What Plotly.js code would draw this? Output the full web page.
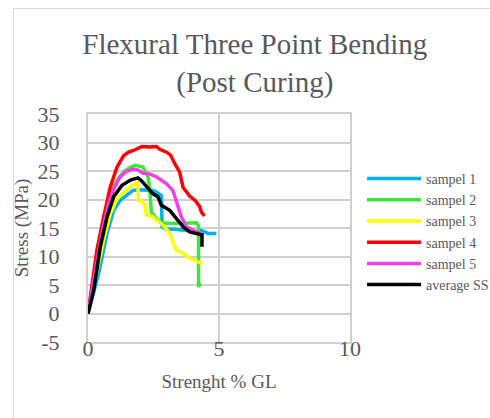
<!DOCTYPE html>
<html>
<head>
<meta charset="utf-8">
<script src="https://cdn.plot.ly/plotly-3.0.1.min.js"></script>
<style>
  html, body { margin: 0; padding: 0; background: #fff; }
  #wrap { position: relative; width: 490px; height: 418px; overflow: hidden; }
  #chart { position: absolute; left: 0; top: 0; width: 490px; height: 418px; }
  #frame { position: absolute; left: 13px; top: 8px; width: 600px; height: 600px;
           border-left: 1px solid #D9D9D9; border-top: 1px solid #D9D9D9; pointer-events: none; }
</style>
</head>
<body>
<div id="wrap"><div id="chart"></div><div id="frame"></div></div>
<script>
// ---- data ----
const seriesNames = ["sampel 1", "sampel 2", "sampel 3", "sampel 4", "sampel 5", "average SS"];

const sampel1X = [0, 0.2, 0.41, 0.73, 0.98, 1.24, 1.49, 1.72, 1.97, 2.25, 2.48, 2.61, 2.8, 2.83, 2.99, 3.3, 3.63, 3.9, 4.14, 4.33, 4.58, 4.9];
const sampel1Y = [0, 3.2, 7.1, 14.1, 18.1, 19.9, 20.8, 21.6, 21.7, 21.6, 21.6, 21.3, 20.7, 15.2, 14.8, 14.8, 14.7, 14.5, 14.3, 14.6, 14.05, 14.05];

const sampel2X = [0, 0.3, 0.55, 0.8, 1.0, 1.2, 1.4, 1.6, 1.8, 2.1, 2.29, 2.35, 2.38, 2.42, 2.61, 2.8, 3.12, 3.6, 4.14, 4.22, 4.22, 4.3];
const sampel2Y = [0, 8.5, 15, 20, 22.5, 24, 25, 25.6, 26, 25.7, 24, 22.2, 19.9, 17.8, 16.7, 15.9, 15.8, 15.8, 15.9, 15.4, 4.7, 5.3];

const sampel3X = [0, 0.3, 0.6, 0.85, 1.1, 1.3, 1.5, 1.7, 1.9, 1.93, 2.16, 2.23, 2.48, 2.86, 3.12, 3.37, 3.63, 3.88, 4.1, 4.37];
const sampel3Y = [0, 6.5, 13, 17.5, 20, 21, 21.8, 22.5, 22.9, 19.8, 19.3, 17.3, 17, 15.5, 14.1, 11.1, 10.6, 9.7, 9.3, 8.7];

const sampel4X = [0, 0.15, 0.34, 0.6, 0.85, 1.11, 1.36, 1.55, 1.74, 2.06, 2.35, 2.61, 2.74, 3.0, 3.15, 3.3, 3.5, 3.63, 3.88, 4.1, 4.26, 4.33, 4.45];
const sampel4Y = [0, 5, 11.1, 17, 22.2, 25.7, 27.7, 28.3, 28.6, 29.3, 29.2, 29.3, 28.8, 28.3, 27.8, 26.4, 24.8, 22.1, 20.6, 19.8, 18.8, 17.8, 17.1];

const sampel5X = [0, 0.3, 0.55, 0.8, 1.0, 1.2, 1.45, 1.7, 1.9, 2.1, 2.35, 2.61, 2.99, 3.24, 3.37, 3.56, 3.75, 4.0, 4.2, 4.39];
const sampel5Y = [0, 8, 14.5, 19.5, 22, 23.8, 24.9, 25.3, 25.2, 24.6, 24.5, 24.0, 22.8, 21.6, 19.6, 17, 15.2, 14.6, 14.2, 13.8];

const averageX = [0, 0.22, 0.47, 0.73, 0.98, 1.3, 1.62, 1.87, 1.91, 2.04, 2.23, 2.48, 2.67, 2.8, 3.12, 3.37, 3.63, 3.88, 4.26, 4.35, 4.35];
const averageY = [0, 4.1, 11.7, 17, 20.5, 22.5, 23.4, 23.8, 23.8, 23.3, 22.2, 21.0, 20.5, 19.0, 18.1, 16.7, 15.2, 14.3, 13.9, 13.8, 11.7];

const xTickVals = [0, 5, 10];
const yTickVals = [-5, 0, 5, 10, 15, 20, 25, 30, 35];

const colors = ["#00B0F0", "#3CE63C", "#FFFF00", "#FF0000", "#F33FE3", "#000000"];

const xs = [sampel1X, sampel2X, sampel3X, sampel4X, sampel5X, averageX];
const ys = [sampel1Y, sampel2Y, sampel3Y, sampel4Y, sampel5Y, averageY];

const serif = "Liberation Serif, DejaVu Serif, serif";
const textGray = "#595959";
const gridGray = "#D0D0D0";

const traces = seriesNames.map((n, i) => ({
  type: "scatter", mode: "lines", name: n,
  x: xs[i], y: ys[i],
  line: { color: colors[i], width: 3.5, shape: "linear" }
}));

const layout = {
  width: 490, height: 418,
  margin: { l: 88, r: 140, t: 114, b: 75.5, pad: 0, autoexpand: false },
  paper_bgcolor: "rgba(0,0,0,0)", plot_bgcolor: "#fff",
  font: { family: serif, color: textGray },
  title: {
    text: "Flexural Three Point Bending<br>(Post Curing)",
    font: { family: serif, size: 29, color: textGray },
    x: 0.52, xref: "container", xanchor: "center",
    y: 0.87, yref: "container", yanchor: "middle"
  },
  xaxis: {
    range: [0, 10], tickvals: xTickVals, ticktext: xTickVals.map(String),
    showgrid: true, gridcolor: gridGray, gridwidth: 2,
    showline: true, linecolor: gridGray, linewidth: 2, mirror: true,
    zeroline: false, ticks: "", ticklabelstandoff: -14,
    tickfont: { family: serif, size: 22, color: textGray },
    title: { text: "Strenght % GL", font: { family: serif, size: 19, color: textGray }, standoff: 14 },
    fixedrange: true
  },
  yaxis: {
    range: [-5, 35], tickvals: yTickVals, ticktext: yTickVals.map(String),
    showgrid: true, gridcolor: gridGray, gridwidth: 2,
    showline: true, linecolor: gridGray, linewidth: 2, mirror: true,
    zeroline: false, ticks: "outside", ticklen: 22, tickcolor: "rgba(0,0,0,0)",
    tickfont: { family: serif, size: 22, color: textGray },
    title: { text: "Stress (MPa)", font: { family: serif, size: 19, color: textGray }, standoff: 4 },
    fixedrange: true
  },
  showlegend: true,
  legend: {
    x: 1.046, xanchor: "left", y: 0.785, yanchor: "top",
    font: { family: serif, size: 14, color: textGray },
    bgcolor: "rgba(0,0,0,0)", borderwidth: 0, itemwidth: 54,
    tracegroupgap: 0
  }
};

Plotly.newPlot("chart", traces, layout, { staticPlot: true, displayModeBar: false });
</script>
</body>
</html>
